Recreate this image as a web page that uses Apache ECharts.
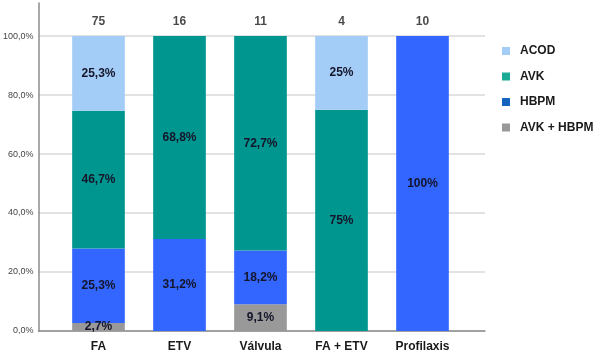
<!DOCTYPE html>
<html>
<head>
<meta charset="utf-8">
<script src="https://cdn.jsdelivr.net/npm/echarts@6/dist/echarts.min.js"></script>
<style>
  html, body { margin: 0; padding: 0; background: #fff; }
  #chart { width: 600px; height: 362px; }
</style>
</head>
<body>
<div id="chart"></div>
<script>
// datos
var categorias = ['FA', 'ETV', 'Válvula', 'FA + ETV', 'Profilaxis'];
var pacientes = [75, 16, 11, 4, 10];
var avkHbpm = [2.7, 0, 9.1, 0, 0];
var hbpm = [25.3, 31.2, 18.2, 0, 100];
var avk = [46.7, 68.8, 72.7, 75, 0];
var acod = [25.3, 0, 0, 25, 0];
var ticksY = [0, 20, 40, 60, 80, 100];

var totales = categorias.map(function (c, i) {
    return avkHbpm[i] + hbpm[i] + avk[i] + acod[i];
});

var yMax = 111.2;

function etiqueta(p) {
    if (!p.value) return '';
    return String(p.value).replace('.', ',') + '%';
}

function serie(nombre, datos, color) {
    return {
        name: nombre,
        type: 'bar',
        stack: 'total',
        xAxisIndex: 1,
        yAxisIndex: 1,
        barCategoryGap: '35%',
        data: datos,
        itemStyle: { color: color },
        label: {
            show: true,
            position: 'inside',
            formatter: etiqueta,
            color: '#15152a',
            fontSize: 12,
            fontWeight: 'bold',
            fontFamily: 'Liberation Sans'
        }
    };
}

var option = {
    animation: false,
    backgroundColor: '#fff',
    legend: {
        orient: 'vertical',
        left: 502,
        top: 45,
        padding: 0,
        itemWidth: 8,
        itemHeight: 8,
        itemGap: 13.5,
        icon: 'rect',
        textStyle: {
            color: '#1a1a1a',
            fontSize: 12,
            fontWeight: 'bold',
            fontFamily: 'Liberation Sans',
            padding: [0, 0, 0, 5]
        },
        data: [
            { name: 'ACOD', itemStyle: { color: '#a3cdf7' } },
            { name: 'AVK', itemStyle: { color: '#1aab96' } },
            { name: 'HBPM', itemStyle: { color: '#1565c0' } },
            { name: 'AVK + HBPM', itemStyle: { color: '#999999' } }
        ]
    },
    grid: [
        // ejes y lineas de fondo
        { left: 35, right: 115, top: 3, bottom: 31 },
        // barras
        { left: 58, right: 137, top: 3, bottom: 31 }
    ],
    xAxis: [
        {
            gridIndex: 0,
            type: 'category',
            data: [''],
            axisTick: { show: false },
            axisLabel: { show: false },
            axisLine: { lineStyle: { color: '#8c8c8c', width: 1.5 } }
        },
        {
            gridIndex: 1,
            type: 'category',
            data: categorias,
            axisLine: { show: false },
            axisTick: { show: false },
            axisLabel: {
                margin: 10,
                color: '#1a1a1a',
                fontSize: 12,
                fontWeight: 'bold',
                fontFamily: 'Liberation Sans'
            }
        }
    ],
    yAxis: [
        {
            gridIndex: 0,
            type: 'value',
            min: ticksY[0],
            max: yMax,
            interval: ticksY[1] - ticksY[0],
            axisLine: { show: true, lineStyle: { color: '#8c8c8c', width: 1.5 } },
            axisTick: { show: false },
            axisLabel: {
                showMaxLabel: false,
                margin: 5,
                color: '#444',
                fontSize: 9,
                fontFamily: 'Liberation Sans',
                formatter: function (v) {
                    return v.toFixed(1).replace('.', ',') + '%';
                }
            },
            splitLine: { showMaxLine: false, lineStyle: { color: '#d9d9d9', width: 1.5 } }
        },
        {
            gridIndex: 1,
            type: 'value',
            min: ticksY[0],
            max: yMax,
            show: false
        }
    ],
    series: [
        serie('AVK + HBPM', avkHbpm, '#999999'),
        serie('HBPM', hbpm, '#3366ff'),
        serie('AVK', avk, '#009690'),
        serie('ACOD', acod, '#a3cdf7'),
        {
            name: 'n',
            type: 'scatter',
            xAxisIndex: 1,
            yAxisIndex: 1,
            symbolSize: 0,
            data: totales,
            label: {
                show: true,
                position: 'top',
                distance: 8,
                formatter: function (p) { return pacientes[p.dataIndex]; },
                color: '#1a1a1a',
                fontSize: 12,
                fontWeight: 'bold',
                fontFamily: 'Liberation Sans'
            }
        }
    ]
};

var grafico = echarts.init(document.getElementById('chart'));
grafico.setOption(option);
</script>
</body>
</html>
